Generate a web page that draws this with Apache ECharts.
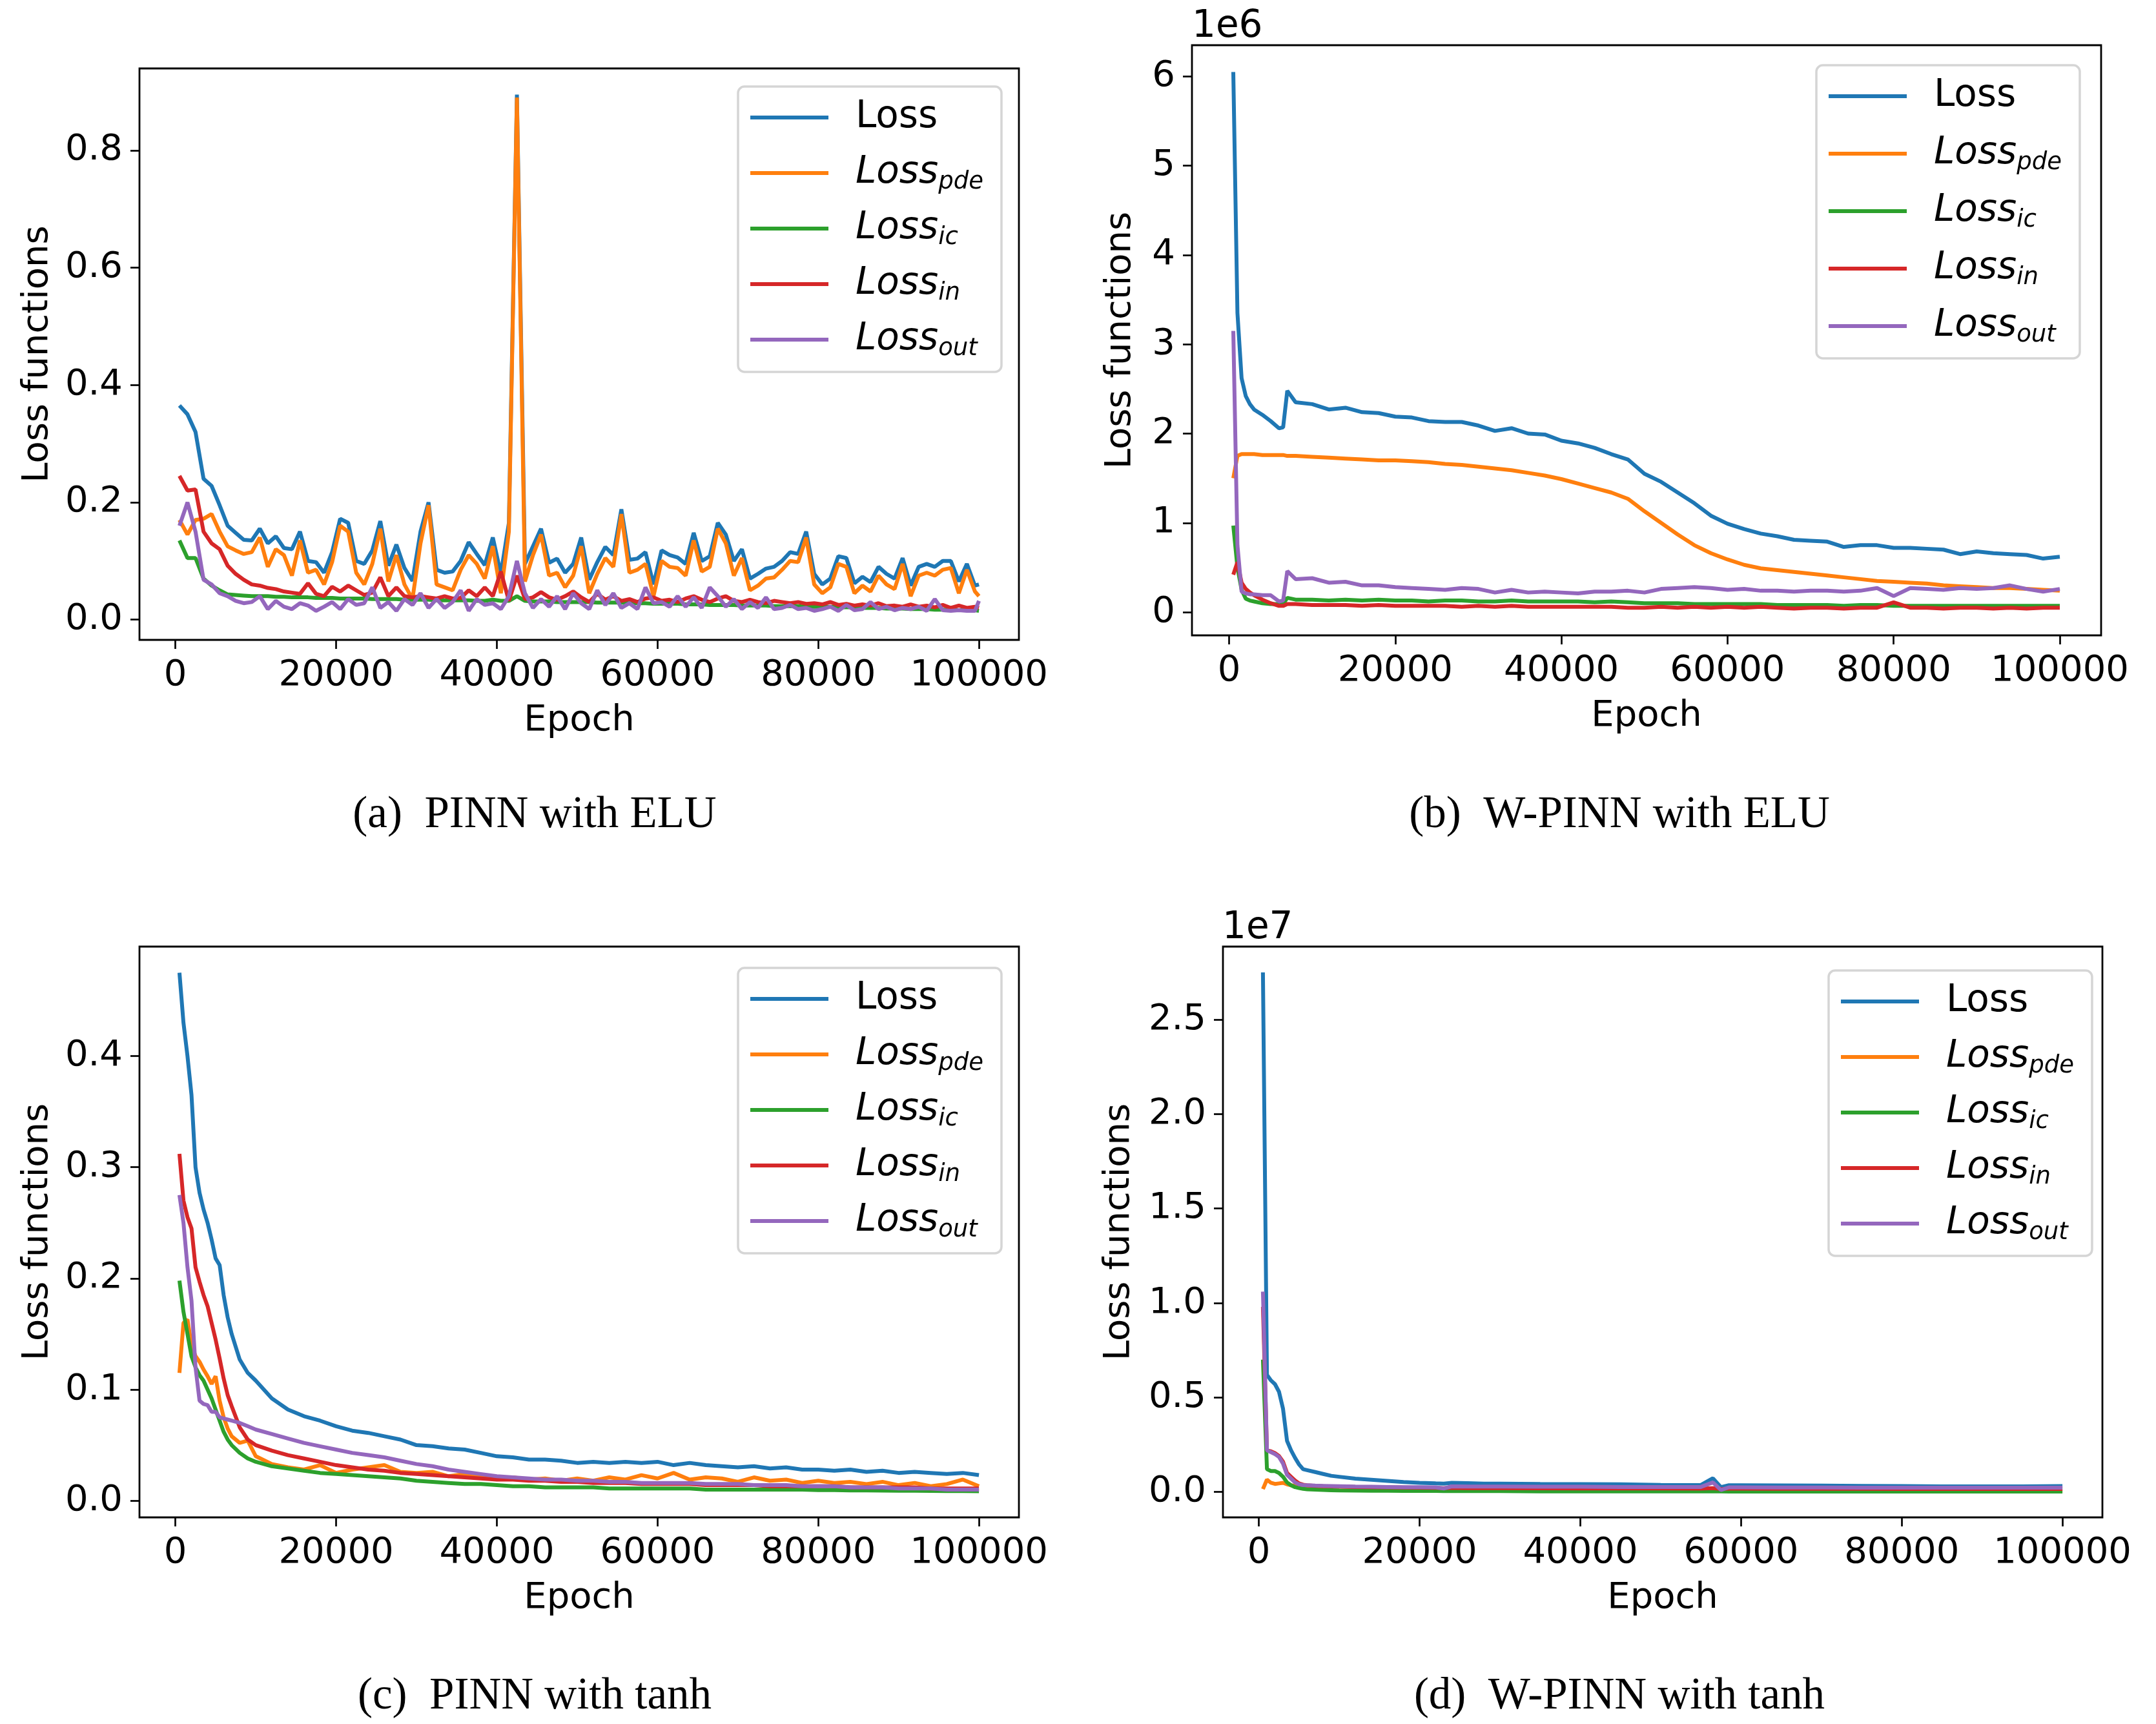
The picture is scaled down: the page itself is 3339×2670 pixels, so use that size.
<!DOCTYPE html>
<html><head><meta charset="utf-8">
<script src="https://cdn.jsdelivr.net/npm/echarts@6/dist/echarts.min.js"></script>
<style>html,body{margin:0;padding:0;background:#fff}#c{width:3339px;height:2670px}</style>
</head><body><div id="c"></div><script>
// ---------- data ----------
const SERIES_NAMES = ['Loss', 'Loss_pde', 'Loss_ic', 'Loss_in', 'Loss_out'];
const X_TICKS = [0, 20000, 40000, 60000, 80000, 100000];

// Panel (a) PINN with ELU
const EPOCHS_A = [];
for (let e = 500; e < 100000; e += 1000) EPOCHS_A.push(e);
EPOCHS_A.push(100000);
const A_LOSS = [
0.365,0.350,0.320,0.240,0.228,0.195,0.160,0.148,0.136,0.135,
0.155,0.130,0.142,0.122,0.120,0.150,0.100,0.098,0.080,0.115,
0.172,0.165,0.100,0.095,0.118,0.168,0.092,0.128,0.088,0.066,
0.150,0.200,0.085,0.080,0.082,0.100,0.132,0.112,0.093,0.140,
0.078,0.165,0.895,0.095,0.125,0.155,0.097,0.104,0.080,0.095,
0.140,0.068,0.098,0.124,0.110,0.188,0.102,0.104,0.115,0.060,
0.118,0.110,0.106,0.095,0.148,0.100,0.108,0.165,0.145,0.100,
0.120,0.070,0.078,0.087,0.090,0.100,0.115,0.112,0.150,0.078,
0.060,0.070,0.108,0.105,0.062,0.073,0.064,0.090,0.078,0.070,
0.105,0.058,0.090,0.095,0.090,0.100,0.100,0.065,0.095,0.058,
0.060];
const A_PDE = [
0.170,0.145,0.170,0.172,0.180,0.150,0.125,0.118,0.112,0.115,
0.140,0.090,0.120,0.110,0.075,0.135,0.080,0.085,0.060,0.098,
0.160,0.150,0.080,0.060,0.095,0.155,0.065,0.110,0.060,0.035,
0.130,0.195,0.060,0.055,0.050,0.085,0.110,0.095,0.070,0.125,
0.045,0.150,0.890,0.065,0.110,0.145,0.075,0.080,0.055,0.075,
0.125,0.045,0.078,0.105,0.090,0.180,0.080,0.085,0.095,0.040,
0.100,0.090,0.088,0.075,0.135,0.082,0.090,0.155,0.130,0.075,
0.105,0.050,0.058,0.070,0.072,0.085,0.100,0.098,0.140,0.060,
0.045,0.055,0.095,0.090,0.045,0.058,0.048,0.075,0.060,0.052,
0.095,0.040,0.075,0.080,0.075,0.085,0.088,0.045,0.085,0.048,
0.040];
const A_IC = [
0.135,0.105,0.105,0.070,0.058,0.050,0.043,0.042,0.041,0.040,
0.040,0.040,0.039,0.039,0.038,0.038,0.038,0.037,0.037,0.037,
0.036,0.036,0.036,0.036,0.035,0.035,0.035,0.035,0.034,0.034,
0.034,0.034,0.033,0.033,0.033,0.033,0.033,0.032,0.032,0.034,
0.032,0.032,0.040,0.032,0.031,0.031,0.031,0.030,0.030,0.030,
0.030,0.030,0.029,0.029,0.029,0.029,0.028,0.028,0.028,0.027,
0.027,0.027,0.027,0.026,0.026,0.026,0.025,0.025,0.025,0.025,
0.024,0.024,0.024,0.024,0.023,0.023,0.023,0.023,0.022,0.022,
0.022,0.022,0.021,0.021,0.021,0.020,0.020,0.020,0.019,0.019,
0.019,0.018,0.018,0.018,0.017,0.017,0.017,0.016,0.016,0.016,
0.015];
const A_IN = [
0.245,0.220,0.222,0.150,0.130,0.120,0.092,0.078,0.068,0.060,
0.058,0.054,0.052,0.048,0.046,0.044,0.062,0.044,0.040,0.056,
0.048,0.058,0.050,0.042,0.046,0.072,0.040,0.055,0.040,0.038,
0.040,0.038,0.036,0.040,0.036,0.037,0.050,0.040,0.055,0.040,
0.082,0.032,0.075,0.035,0.038,0.047,0.038,0.034,0.040,0.048,
0.038,0.030,0.044,0.034,0.040,0.032,0.035,0.030,0.036,0.038,
0.032,0.034,0.030,0.036,0.040,0.034,0.030,0.036,0.040,0.032,
0.030,0.034,0.030,0.028,0.032,0.030,0.028,0.030,0.027,0.028,
0.026,0.030,0.025,0.027,0.024,0.026,0.024,0.028,0.023,0.024,
0.022,0.026,0.022,0.024,0.021,0.025,0.020,0.024,0.020,0.022,
0.020];
const A_OUT = [
0.160,0.200,0.150,0.068,0.060,0.045,0.040,0.032,0.028,0.030,
0.040,0.018,0.032,0.022,0.018,0.028,0.024,0.015,0.022,0.030,
0.018,0.035,0.025,0.028,0.055,0.020,0.030,0.015,0.035,0.025,
0.045,0.020,0.035,0.020,0.030,0.050,0.015,0.035,0.025,0.028,
0.018,0.040,0.100,0.045,0.020,0.035,0.022,0.040,0.018,0.045,
0.028,0.018,0.050,0.025,0.045,0.020,0.028,0.018,0.055,0.028,
0.030,0.022,0.040,0.022,0.038,0.020,0.055,0.040,0.022,0.035,
0.018,0.030,0.020,0.038,0.018,0.020,0.025,0.018,0.020,0.015,
0.018,0.022,0.015,0.025,0.016,0.018,0.030,0.018,0.022,0.016,
0.020,0.018,0.022,0.015,0.035,0.016,0.015,0.016,0.015,0.015,
0.032];

// Panel (b) W-PINN with ELU (values in units of 1e6)
const EPOCHS_B = [500,1000,1500,2000,2500,3000,4000,5000,6000,6500,7000,8000];
for (let e = 10000; e <= 100000; e += 2000) EPOCHS_B.push(e);
const B_LOSS = [
6.05,3.35,2.62,2.42,2.33,2.27,2.21,2.14,2.06,2.07,2.48,2.35,
2.33,2.27,2.29,2.24,2.23,2.19,2.18,2.14,2.13,2.13,
2.09,2.03,2.06,2.00,1.99,1.92,1.89,1.84,1.77,1.71,
1.55,1.46,1.34,1.22,1.08,0.99,0.93,0.88,0.85,0.81,
0.80,0.79,0.73,0.75,0.75,0.72,0.72,0.71,0.70,0.65,
0.68,0.66,0.65,0.64,0.60,0.62];
const B_PDE = [
1.50,1.75,1.77,1.77,1.77,1.77,1.76,1.76,1.76,1.76,1.75,1.75,
1.74,1.73,1.72,1.71,1.70,1.70,1.69,1.68,1.66,1.65,
1.63,1.61,1.59,1.56,1.53,1.49,1.44,1.39,1.34,1.27,
1.13,1.00,0.87,0.75,0.66,0.59,0.53,0.49,0.47,0.45,
0.43,0.41,0.39,0.37,0.35,0.34,0.33,0.32,0.30,0.29,
0.28,0.27,0.27,0.26,0.25,0.24];
const B_IC = [
0.97,0.50,0.25,0.15,0.13,0.12,0.10,0.09,0.09,0.09,0.16,0.14,
0.14,0.13,0.14,0.13,0.14,0.13,0.13,0.12,0.13,0.13,
0.12,0.12,0.13,0.12,0.12,0.12,0.12,0.11,0.12,0.11,
0.10,0.10,0.10,0.09,0.09,0.09,0.09,0.09,0.08,0.08,
0.08,0.08,0.07,0.08,0.08,0.07,0.07,0.07,0.07,0.07,
0.07,0.07,0.07,0.07,0.07,0.07];
const B_IN = [
0.42,0.56,0.33,0.26,0.22,0.19,0.14,0.10,0.07,0.07,0.09,0.09,
0.08,0.08,0.08,0.07,0.08,0.07,0.07,0.07,0.07,0.06,
0.07,0.06,0.07,0.06,0.06,0.06,0.06,0.06,0.06,0.05,
0.05,0.06,0.05,0.06,0.05,0.06,0.05,0.06,0.05,0.04,
0.05,0.05,0.04,0.05,0.05,0.11,0.05,0.05,0.04,0.05,
0.05,0.04,0.05,0.04,0.05,0.05];
const B_OUT = [
3.15,0.75,0.23,0.21,0.20,0.20,0.19,0.19,0.12,0.13,0.46,0.37,
0.38,0.33,0.34,0.30,0.30,0.28,0.27,0.26,0.25,0.27,
0.26,0.22,0.25,0.22,0.23,0.22,0.21,0.23,0.23,0.24,
0.22,0.26,0.27,0.28,0.27,0.25,0.26,0.24,0.24,0.23,
0.24,0.24,0.23,0.24,0.27,0.18,0.27,0.26,0.25,0.27,
0.26,0.27,0.30,0.26,0.23,0.26];

// Panel (c) PINN with tanh
const EPOCHS_C = [500,1000,1500,2000,2500,3000,3500,4000,4500,5000,5500,6000,6500,7000,8000,9000,10000];
for (let e = 12000; e <= 100000; e += 2000) EPOCHS_C.push(e);
const C_LOSS = [
0.475,0.430,0.400,0.365,0.300,0.277,0.262,0.250,0.235,0.218,0.212,0.185,0.165,0.150,0.127,0.115,0.108,
0.092,0.082,0.076,0.072,0.067,0.063,0.061,0.058,0.055,0.050,
0.049,0.047,0.046,0.043,0.040,0.039,0.037,0.037,0.036,0.034,
0.035,0.034,0.035,0.034,0.035,0.032,0.034,0.032,0.031,0.030,
0.031,0.029,0.030,0.028,0.028,0.027,0.028,0.026,0.027,0.025,
0.026,0.025,0.024,0.025,0.023];
const C_PDE = [
0.115,0.160,0.163,0.140,0.130,0.125,0.118,0.112,0.105,0.112,0.090,0.075,0.065,0.058,0.052,0.054,0.040,
0.033,0.030,0.028,0.032,0.025,0.028,0.030,0.032,0.026,0.025,
0.026,0.022,0.024,0.023,0.020,0.021,0.019,0.020,0.018,0.020,
0.018,0.021,0.019,0.023,0.020,0.025,0.019,0.021,0.020,0.017,
0.021,0.018,0.019,0.016,0.018,0.016,0.017,0.015,0.017,0.014,
0.016,0.013,0.015,0.019,0.013];
const C_IC = [
0.198,0.170,0.150,0.130,0.120,0.113,0.108,0.100,0.092,0.082,0.072,0.062,0.055,0.050,0.043,0.038,0.035,
0.031,0.029,0.027,0.025,0.024,0.023,0.022,0.021,0.020,0.018,
0.017,0.016,0.015,0.015,0.014,0.013,0.013,0.012,0.012,0.012,
0.012,0.011,0.011,0.011,0.011,0.011,0.011,0.010,0.010,0.010,
0.010,0.010,0.010,0.010,0.0095,0.0095,0.0093,0.0092,0.0091,0.009,
0.009,0.0088,0.0087,0.0086,0.0085];
const C_IN = [
0.312,0.270,0.255,0.245,0.210,0.197,0.185,0.175,0.160,0.145,0.128,0.110,0.095,0.085,0.066,0.055,0.050,
0.045,0.041,0.038,0.035,0.032,0.030,0.028,0.027,0.025,0.024,
0.023,0.022,0.021,0.020,0.019,0.019,0.018,0.018,0.017,0.017,
0.016,0.016,0.016,0.015,0.015,0.015,0.015,0.014,0.014,0.014,
0.014,0.013,0.013,0.013,0.013,0.013,0.012,0.012,0.012,0.012,
0.012,0.011,0.011,0.011,0.011];
const C_OUT = [
0.275,0.250,0.210,0.180,0.120,0.090,0.087,0.086,0.080,0.080,0.075,0.074,0.073,0.072,0.070,0.067,0.064,
0.060,0.056,0.052,0.049,0.046,0.043,0.041,0.039,0.036,0.033,
0.031,0.028,0.026,0.024,0.022,0.021,0.020,0.019,0.019,0.018,
0.018,0.017,0.017,0.016,0.016,0.016,0.016,0.015,0.015,0.015,
0.014,0.014,0.014,0.013,0.013,0.013,0.012,0.012,0.012,0.011,
0.011,0.011,0.010,0.010,0.010];

// Panel (d) W-PINN with tanh (values in units of 1e7)
const EPOCHS_D = [500,1000,1500,2000,2500,3000,3500,4000,4500,5000,
5500,6000,7000,8000,9000,10000,12000,14000,16000,18000,
20000,22000,23000,24000,26000,28000,30000,35000,40000,45000,
50000,55000,56500,57500,58500,60000,65000,70000,75000,80000,
85000,90000,95000,100000];
const D_LOSS = [2.75,0.62,0.59,0.57,0.53,0.44,0.27,0.22,0.18,0.145,
0.12,0.115,0.105,0.095,0.085,0.080,0.070,0.064,0.058,0.052,
0.048,0.045,0.044,0.048,0.046,0.044,0.044,0.042,0.041,0.040,
0.037,0.036,0.072,0.025,0.035,0.035,0.034,0.033,0.032,0.031,
0.029,0.029,0.029,0.031];
const D_PDE = [0.015,0.065,0.048,0.042,0.045,0.048,0.040,0.035,0.032,0.030,
0.030,0.030,0.030,0.029,0.028,0.028,0.026,0.025,0.024,0.022,
0.020,0.018,0.018,0.017,0.016,0.015,0.015,0.013,0.012,0.011,
0.010,0.010,0.012,0.009,0.009,0.009,0.008,0.008,0.008,0.007,
0.007,0.007,0.007,0.007];
const D_IC = [0.70,0.12,0.11,0.11,0.10,0.08,0.05,0.035,0.025,0.020,
0.016,0.014,0.012,0.010,0.009,0.008,0.007,0.006,0.006,0.005,
0.005,0.005,0.004,0.004,0.004,0.004,0.004,0.003,0.003,0.003,
0.003,0.003,0.003,0.003,0.002,0.002,0.002,0.002,0.002,0.002,
0.002,0.002,0.002,0.002];
const D_IN = [0.98,0.22,0.215,0.205,0.19,0.16,0.10,0.08,0.06,0.045,
0.038,0.035,0.032,0.030,0.029,0.028,0.026,0.025,0.024,0.023,
0.022,0.021,0.020,0.021,0.020,0.020,0.020,0.019,0.018,0.018,
0.018,0.017,0.020,0.015,0.017,0.017,0.016,0.016,0.016,0.015,
0.015,0.015,0.015,0.015];
const D_OUT = [1.06,0.22,0.21,0.20,0.185,0.15,0.09,0.07,0.05,0.04,
0.036,0.035,0.033,0.032,0.031,0.030,0.028,0.027,0.026,0.025,
0.025,0.024,0.018,0.029,0.028,0.028,0.028,0.027,0.027,0.026,
0.026,0.026,0.050,0.010,0.024,0.024,0.023,0.023,0.022,0.022,
0.022,0.022,0.022,0.022];

// ---------- layout / style ----------
const COLORS = ['#1f77b4', '#ff7f0e', '#2ca02c', '#d62728', '#9467bd'];
const FONT = 'DejaVu Sans';
const TICK_FS = 56, NAME_FS = 56, LEG_FS = 58, SUB_FS = 37;
const PANELS = [
  {grid:{left:216, top:106, width:1362, height:885}, epochs:EPOCHS_A, data:[A_LOSS,A_PDE,A_IC,A_IN,A_OUT],
   ymin:-0.0345, ymax:0.9395, yticks:[0,0.2,0.4,0.6,0.8], fmt:v=>v.toFixed(1), yGap:130,
   legend:{left:1143, top:134, gap:20}},
  {grid:{left:1846, top:70, width:1408, height:914}, epochs:EPOCHS_B, data:[B_LOSS,B_PDE,B_IC,B_IN,B_OUT],
   ymin:-0.26, ymax:6.35, yticks:[0,1,2,3,4,5,6], fmt:v=>String(Math.round(v)), yGap:83,
   legend:{left:2813, top:101, gap:23}},
  {grid:{left:216, top:1466, width:1362, height:884}, epochs:EPOCHS_C, data:[C_LOSS,C_PDE,C_IC,C_IN,C_OUT],
   ymin:-0.015, ymax:0.4985, yticks:[0,0.1,0.2,0.3,0.4], fmt:v=>v.toFixed(1), yGap:130,
   legend:{left:1143, top:1499, gap:20}},
  {grid:{left:1894, top:1466, width:1362, height:884}, epochs:EPOCHS_D, data:[D_LOSS,D_PDE,D_IC,D_IN,D_OUT],
   ymin:-0.135, ymax:2.887, yticks:[0,0.5,1,1.5,2,2.5], fmt:v=>v.toFixed(1), yGap:133,
   legend:{left:2832, top:1503, gap:20}}
];

const tickStyle = {show:true, inside:false, length:14, lineStyle:{color:'#000', width:2.7}};
const grids = [], xAxes = [], yAxes = [], series = [], legends = [];
PANELS.forEach((p, i) => {
  grids.push(Object.assign({show:true, borderColor:'#000', borderWidth:2.8, backgroundColor:'transparent', containLabel:false}, p.grid));
  xAxes.push({
    type:'value', gridIndex:i, min:-4475, max:104975, position:'bottom',
    axisLine:{show:false, onZero:false}, splitLine:{show:false},
    axisTick:Object.assign({customValues:X_TICKS}, tickStyle),
    axisLabel:{customValues:X_TICKS, fontSize:TICK_FS, fontFamily:FONT, color:'#000', margin:27, formatter:v=>String(v)},
    name:'Epoch', nameLocation:'middle', nameGap:97,
    nameTextStyle:{fontSize:NAME_FS, fontFamily:FONT, color:'#000'}
  });
  yAxes.push({
    type:'value', gridIndex:i, min:p.ymin, max:p.ymax, position:'left',
    axisLine:{show:false, onZero:false}, splitLine:{show:false},
    axisTick:Object.assign({customValues:p.yticks}, tickStyle),
    axisLabel:{customValues:p.yticks, fontSize:TICK_FS, fontFamily:FONT, color:'#000', margin:26, formatter:p.fmt},
    name:'Loss functions', nameLocation:'middle', nameGap:p.yGap,
    nameTextStyle:{fontSize:NAME_FS, fontFamily:FONT, color:'#000'}
  });
  p.data.forEach((arr, k) => {
    series.push({
      type:'line', name:SERIES_NAMES[k], xAxisIndex:i, yAxisIndex:i,
      data:p.epochs.map((e, j) => [e, arr[j]]),
      symbol:'none', showSymbol:false, smooth:false,
      lineStyle:{color:COLORS[k], width:6}, itemStyle:{color:COLORS[k]},
      emphasis:{disabled:true}, silent:true, animation:false
    });
  });
  legends.push({
    show:true, orient:'vertical', left:p.legend.left, top:p.legend.top,
    data:SERIES_NAMES, icon:'rect', itemWidth:121, itemHeight:6, itemGap:p.legend.gap,
    padding:[15, 28, 17, 19], backgroundColor:'rgba(255,255,255,0.8)',
    borderColor:'#d5d5d5', borderWidth:3.5, borderRadius:10, selectedMode:false,
    formatter:function(name){
      const parts = name.split('_');
      if (parts.length === 1) return '{sp| }{n|' + name + '}';
      return '{sp| }{it|' + parts[0] + '}{sub|' + parts[1] + '}';
    },
    textStyle:{fontSize:LEG_FS, fontFamily:FONT, color:'#000', lineHeight:66,
      rich:{
        sp:{width:37, fontSize:LEG_FS, lineHeight:66},
        n:{fontSize:LEG_FS, fontFamily:FONT, color:'#000', lineHeight:66},
        it:{fontSize:LEG_FS, fontFamily:FONT, fontStyle:'italic', color:'#000', lineHeight:66},
        sub:{fontSize:SUB_FS, fontFamily:FONT, fontStyle:'italic', color:'#000', lineHeight:34, verticalAlign:'bottom'}
      }}
  });
});

const CAP_FONT = '69px "Liberation Serif", "DejaVu Serif", serif';
function txt(text, x, y, font, align, valign){
  return {type:'text', silent:true, style:{text:text, x:x, y:y, font:font, fill:'#000',
    textAlign:align, textVerticalAlign:valign, align:align, verticalAlign:valign}};
}
const graphics = [
  txt('1e6', 1846, 71, '58px "DejaVu Sans"', 'left', 'bottom'),
  txt('1e7', 1893, 1467, '58px "DejaVu Sans"', 'left', 'bottom'),
  txt('(a)\u2002PINN with ELU', 828, 1263, CAP_FONT, 'center', 'middle'),
  txt('(b)\u2002W-PINN with ELU', 2508, 1263, CAP_FONT, 'center', 'middle'),
  txt('(c)\u2002PINN with tanh', 828, 2628, CAP_FONT, 'center', 'middle'),
  txt('(d)\u2002W-PINN with tanh', 2508, 2628, CAP_FONT, 'center', 'middle')
];

const chart = echarts.init(document.getElementById('c'), null, {renderer:'canvas', devicePixelRatio:1, width:3339, height:2670});
chart.setOption({
  backgroundColor:'#ffffff', animation:false,
  grid:grids, xAxis:xAxes, yAxis:yAxes, series:series, legend:legends,
  graphic:{elements:graphics}
});
</script></body></html>
